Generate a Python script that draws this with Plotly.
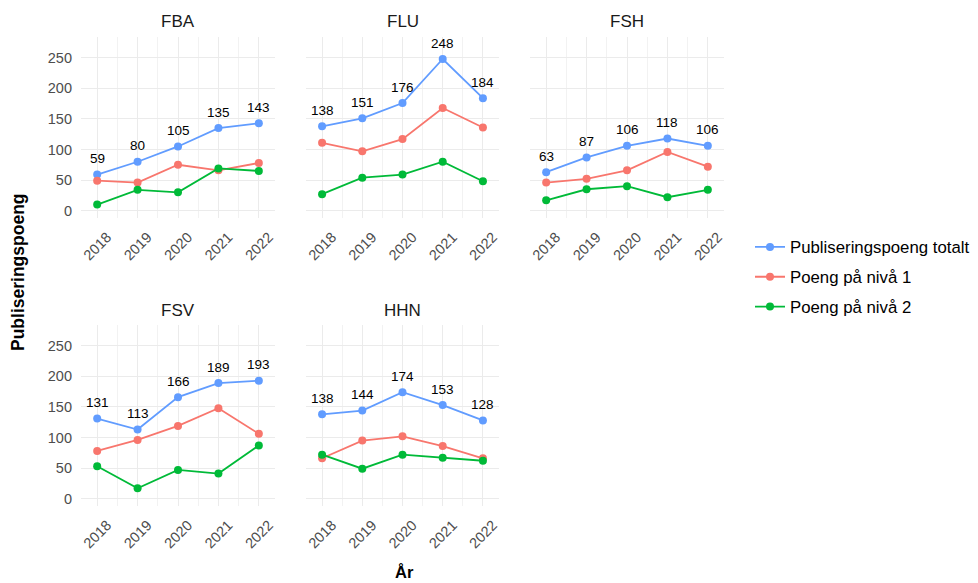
import plotly.graph_objects as go

years = [2018, 2019, 2020, 2021, 2022]
units = ["FBA", "FLU", "FSH", "FSV", "HHN"]

total = {
    "FBA": [59, 80, 105, 135, 143],
    "FLU": [138, 151, 176, 248, 184],
    "FSH": [63, 87, 106, 118, 106],
    "FSV": [131, 113, 166, 189, 193],
    "HHN": [138, 144, 174, 153, 128],
}
level1 = {
    "FBA": [49, 46, 75, 66, 78],
    "FLU": [111, 97, 117, 168, 136],
    "FSH": [46, 52, 66, 96, 72],
    "FSV": [78, 96, 119, 148, 106],
    "HHN": [66, 95, 102, 86, 66],
}
level2 = {
    "FBA": [10, 34, 30, 69, 65],
    "FLU": [27, 54, 59, 80, 48],
    "FSH": [17, 35, 40, 22, 34],
    "FSV": [53, 17, 47, 41, 87],
    "HHN": [72, 49, 72, 67, 62],
}
y_ticks = [0, 50, 100, 150, 200, 250]

series = [
    ("Publiseringspoeng totalt", total, "#619CFF"),
    ("Poeng på nivå 1", level1, "#F8766D"),
    ("Poeng på nivå 2", level2, "#00BA38"),
]

# page is 978x583; browser body has an 8px margin, so the figure is drawn 8px in
OFF = 8
W, H = 978 - OFF, 583 - OFF


def fx(px):
    return (px - OFF) / W


def fy(py):
    return 1 - (py - OFF) / H


col_px = [(81, 275), (306, 499), (530, 724)]
row_px = [(37, 218), (325, 506)]
pos = {"FBA": (0, 0), "FLU": (0, 1), "FSH": (0, 2), "FSV": (1, 0), "HHN": (1, 1)}

FONT = "Liberation Sans, Arial, sans-serif"
fig = go.Figure()
layout = {}
annotations = []

for i, u in enumerate(units):
    idx = i + 1
    xa = "x" if idx == 1 else f"x{idx}"
    ya = "y" if idx == 1 else f"y{idx}"
    r, c = pos[u]
    x0, x1 = col_px[c]
    t0, t1 = row_px[r]
    layout["xaxis" if idx == 1 else f"xaxis{idx}"] = dict(
        domain=[fx(x0), fx(x1)], anchor=ya, range=[2017.6, 2022.4],
        tickvals=years, ticktext=[str(y) for y in years], tickangle=-45,
        ticklabelstandoff=7, ticklabelshift=10,
        showgrid=True, gridcolor="#EBEBEB", gridwidth=1.3,
        minor=dict(dtick=0.5, tick0=2018.5, showgrid=True, gridcolor="#F2F2F2", gridwidth=0.8),
        zeroline=False, showline=False, ticks="", automargin=False,
        tickfont=dict(family=FONT, size=14.5, color="#4D4D4D"),
        fixedrange=True,
    )
    layout["yaxis" if idx == 1 else f"yaxis{idx}"] = dict(
        domain=[fy(t1), fy(t0)], anchor=xa, range=[-12, 284],
        tickvals=y_ticks, showticklabels=(c == 0), ticklabelstandoff=8,
        showgrid=True, gridcolor="#EBEBEB", gridwidth=1.3,
        zeroline=False, showline=False, ticks="", automargin=False,
        tickfont=dict(family=FONT, size=14.5, color="#4D4D4D"),
        fixedrange=True,
    )
    for name, data, color in series:
        fig.add_trace(go.Scatter(
            x=years, y=data[u], mode="lines+markers", name=name,
            line=dict(color=color, width=1.8), marker=dict(color=color, size=8),
            xaxis=xa, yaxis=ya, showlegend=(idx == 1), legendgroup=name,
        ))
    for yr, v in zip(years, total[u]):
        annotations.append(dict(
            x=yr, y=v, xref=xa, yref=ya, text=str(v), showarrow=False,
            yshift=16, font=dict(family=FONT, size=13.5, color="black"),
        ))
    annotations.append(dict(
        x=fx((x0 + x1) / 2), y=fy(t0 - 15), xref="paper", yref="paper",
        xanchor="center", yanchor="middle",
        text=u, showarrow=False, font=dict(family=FONT, size=17, color="#1A1A1A"),
    ))

annotations.append(dict(
    x=fx(404), y=fy(572), xref="paper", yref="paper", text="<b>År</b>",
    xanchor="center", yanchor="middle",
    showarrow=False, font=dict(family=FONT, size=16.5, color="black"),
))
annotations.append(dict(
    x=fx(18), y=fy(272), xref="paper", yref="paper", text="<b>Publiseringspoeng</b>",
    xanchor="center", yanchor="middle",
    textangle=-90, showarrow=False, font=dict(family=FONT, size=17.5, color="black"),
))

fig.update_layout(
    width=W, height=H, margin=dict(l=0, r=0, t=0, b=0, autoexpand=False),
    paper_bgcolor="white", plot_bgcolor="white",
    font=dict(family=FONT),
    annotations=annotations,
    legend=dict(
        x=fx(750), y=fy(277), xanchor="left", yanchor="middle",
        font=dict(family=FONT, size=16.8, color="black"),
        tracegroupgap=5, bgcolor="rgba(0,0,0,0)",
    ),
    **layout,
)

fig.write_html("out.html")
